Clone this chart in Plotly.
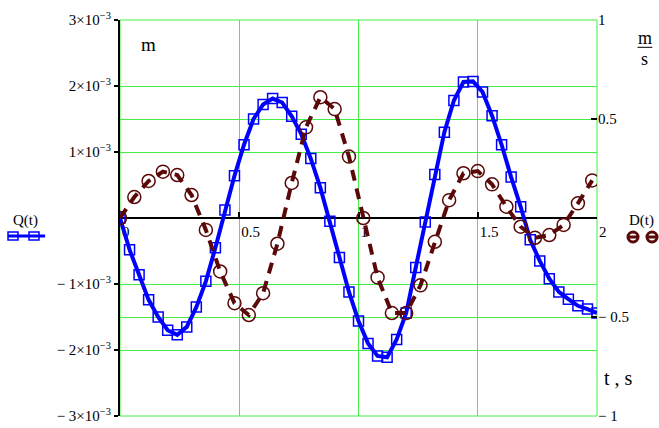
import plotly.graph_objects as go

# ---------------- data ----------------
# sample times
t_q = [round(i * 0.04, 2) for i in range(51)]      # 0 .. 2.00, step 0.04
t_d = [round(i * 0.06, 2) for i in range(34)]      # 0 .. 1.98, step 0.06

# Q(t) values in units of 1e-3 m (left axis)
q_milli = [0, -0.48, -0.86, -1.24, -1.50, -1.70, -1.77, -1.65, -1.35, -0.96,
           -0.45, 0.12, 0.64, 1.11, 1.50, 1.72, 1.81, 1.75, 1.54, 1.27,
           0.90, 0.46, -0.05, -0.60, -1.12, -1.56, -1.90, -2.09, -2.11, -1.84,
           -1.44, -0.75, -0.06, 0.66, 1.30, 1.78, 2.06, 2.07, 1.91, 1.55,
           1.11, 0.62, 0.17, -0.33, -0.65, -0.92, -1.12, -1.23, -1.33, -1.38,
           -1.44]
q_vals = [v * 1e-3 for v in q_milli]

# D(t) values in m/s (right axis)
d_vals = [0, 0.106, 0.187, 0.234, 0.217, 0.116, -0.06, -0.27, -0.43, -0.49,
          -0.38, -0.13, 0.177, 0.458, 0.61, 0.55, 0.31, 0.0, -0.30, -0.48,
          -0.48, -0.34, -0.12, 0.09, 0.226, 0.237, 0.17, 0.057, -0.044, -0.10,
          -0.086, -0.035, 0.074, 0.19]

x_ticks = [0, 0.5, 1, 1.5, 2]
x_ticktext = ["0", "0.5", "1", "1.5", "2"]
yl_ticks = [-3e-3, -2e-3, -1e-3, 1e-3, 2e-3, 3e-3]
yl_ticktext = ["\u2212 3\u00d710<sup>\u22123</sup>", "\u2212 2\u00d710<sup>\u22123</sup>",
               "\u2212 1\u00d710<sup>\u22123</sup>", "1\u00d710<sup>\u22123</sup>",
               "2\u00d710<sup>\u22123</sup>", "3\u00d710<sup>\u22123</sup>"]
yr_ticks = [-1, -0.5, 0.5, 1]
yr_ticktext = ["\u2212 1", "\u2212 0.5", "0.5", "1"]

# ---------------- style ----------------
BLUE = "#0000ff"
BROWN = "#5a0808"
GREEN = "#44ee44"
FONT = "Liberation Serif, Times New Roman, serif"
TICKFONT = dict(family=FONT, size=15, color="black")

fig = go.Figure()
fig.add_trace(go.Scatter(
    x=t_q, y=q_vals, mode="lines+markers", yaxis="y",
    line=dict(color=BLUE, width=4),
    marker=dict(symbol="square-open", size=10, color=BLUE, line=dict(width=1.5)),
))
fig.add_trace(go.Scatter(
    x=t_d, y=d_vals, mode="lines+markers", yaxis="y2",
    line=dict(color=BROWN, width=4, dash="11px,8px"),
    marker=dict(symbol="circle-open", size=13, color=BROWN, line=dict(width=1.5)),
))

fig.update_layout(
    width=659, height=428,
    margin=dict(l=120, r=62, t=20, b=12),
    paper_bgcolor="white", plot_bgcolor="white",
    showlegend=False,
    font=dict(family=FONT, size=15, color="black"),
    xaxis=dict(
        range=[0, 2], tickvals=x_ticks, ticktext=x_ticktext,
        showgrid=True, gridcolor=GREEN, gridwidth=1,
        zeroline=False, anchor="free", position=0.5, automargin=False,
        showline=True, linecolor="black", linewidth=2,
        ticks="inside", ticklen=5, tickwidth=2, tickcolor="black",
        ticklabelposition="outside right", layer="below traces",
        tickfont=TICKFONT,
    ),
    yaxis=dict(
        range=[-3e-3, 3e-3], tickvals=yl_ticks, ticktext=yl_ticktext,
        showgrid=True, gridcolor=GREEN, gridwidth=1, zeroline=False,
        showline=True, linecolor="black", linewidth=2, automargin=False,
        ticks="outside", ticklen=4, tickwidth=2, tickcolor="black",
        tickfont=TICKFONT,
    ),
    yaxis2=dict(
        range=[-1, 1], tickvals=yr_ticks, ticktext=yr_ticktext,
        overlaying="y", side="right", automargin=False,
        showgrid=True, gridcolor=GREEN, gridwidth=1, zeroline=False,
        showline=False,
        ticks="inside", ticklen=6, tickwidth=2, tickcolor="black",
        tickfont=TICKFONT,
    ),
)

# green frame on top / bottom / right
fig.add_shape(type="rect", xref="paper", yref="paper", x0=0, x1=1, y0=0, y1=1,
              line=dict(color=GREEN, width=1), fillcolor="rgba(0,0,0,0)", layer="below")


def label(x, y, text, size):
    fig.add_annotation(x=x, y=y, xref="paper", yref="paper", text=text,
                       showarrow=False, xanchor="center", yanchor="middle",
                       font=dict(family=FONT, size=size, color="black"))


# unit labels
label(0.059, 0.937, "m", 19)
label(1.1006, 0.955, "m", 18)
label(1.1006, 0.902, "s", 18)
fig.add_shape(type="line", xref="paper", yref="paper", x0=1.085, x1=1.116,
              y0=0.931, y1=0.931, line=dict(color="black", width=1))
label(1.046, 0.096, "t , s", 20)

# legend: Q(t)
label(-0.199, 0.494, "Q(t)", 15)
fig.add_shape(type="line", xref="paper", yref="paper", x0=-0.2348, x1=-0.157,
              y0=0.4545, y1=0.4545, line=dict(color=BLUE, width=3))
for cx in (-0.2243, -0.1803):
    fig.add_shape(type="rect", xref="paper", yref="paper",
                  x0=cx - 0.0105, x1=cx + 0.0105, y0=0.4545 - 0.0101, y1=0.4545 + 0.0101,
                  line=dict(color=BLUE, width=1.5), fillcolor="rgba(0,0,0,0)")

# legend: D(t)
label(1.094, 0.494, "D(t)", 15)
for cx in (1.0755, 1.1153):
    fig.add_shape(type="circle", xref="paper", yref="paper",
                  x0=cx - 0.0105, x1=cx + 0.0105, y0=0.452 - 0.0126, y1=0.452 + 0.0126,
                  line=dict(color=BROWN, width=3), fillcolor="white")
    fig.add_shape(type="line", xref="paper", yref="paper",
                  x0=cx - 0.0105, x1=cx + 0.0105, y0=0.452, y1=0.452,
                  line=dict(color=BROWN, width=3))

fig.write_html("out.html", config={"displayModeBar": False},
               post_script="document.body.style.margin='0';document.body.style.overflow='hidden';")
